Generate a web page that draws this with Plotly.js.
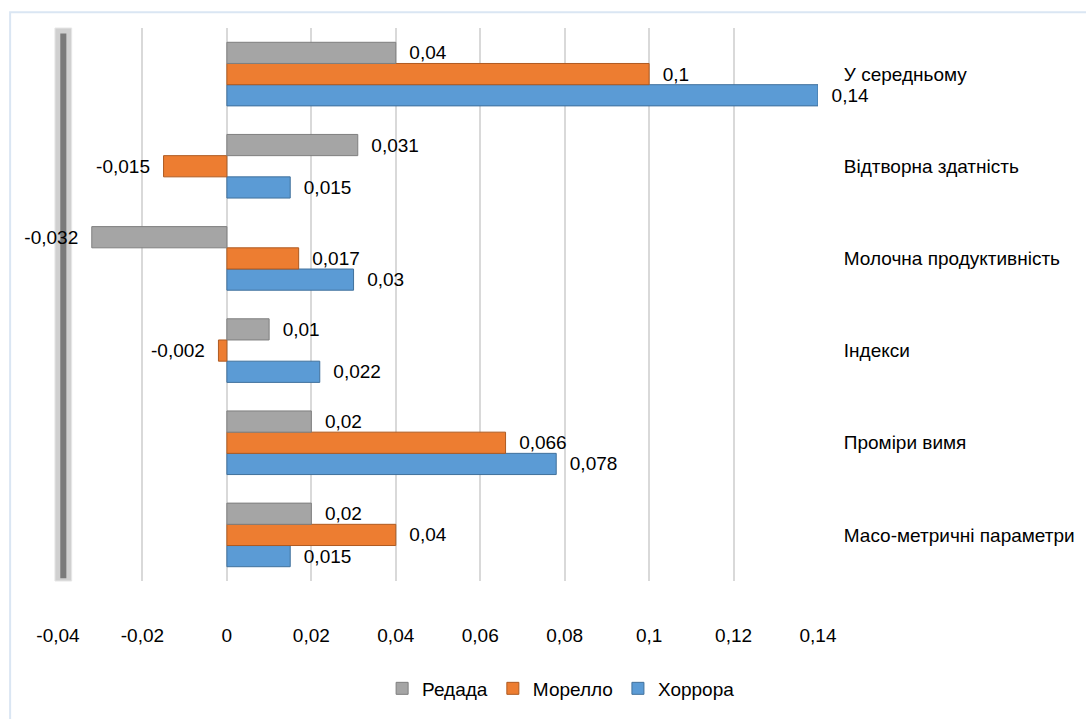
<!DOCTYPE html>
<html>
<head>
<meta charset="utf-8">
<script src="https://cdn.plot.ly/plotly-3.0.1.min.js"></script>
<style>html,body{margin:0;padding:0;background:#fff;}#chart{width:1086px;height:719px;}</style>
</head>
<body>
<div id="chart"></div>
<script>
// Categories listed bottom to top
const categories = [
  "Масо-метричні параметри",
  "Проміри вимя",
  "Індекси",
  "Молочна продуктивність",
  "Відтворна здатність",
  "У середньому"
];
const redada  = [0.02, 0.02, 0.01, -0.032, 0.031, 0.04];
const morello = [0.04, 0.066, -0.002, 0.017, -0.015, 0.1];
const horrora = [0.015, 0.078, 0.022, 0.03, 0.015, 0.14];
const seriesNames = ["Редада", "Морелло", "Хоррора"];
const xTicks = [-0.04, -0.02, 0, 0.02, 0.04, 0.06, 0.08, 0.1, 0.12, 0.14];

const FONT = '"Liberation Sans", Arial, sans-serif';
const FS = 19;
const fmt = v => String(v).replace('.', ',');
const NB = '\u00a0\u00a0';
const lab = v => v < 0 ? fmt(v) + NB : NB + fmt(v);

function mk(name, vals, color, line) {
  return {
    type: 'bar', orientation: 'h', name: name,
    y: categories, x: vals,
    text: vals.map(lab), textposition: 'outside', cliponaxis: false,
    textfont: {family: FONT, size: FS, color: '#000'},
    marker: {color: color, line: {color: line, width: 1}},
    hoverinfo: 'x+y'
  };
}
// trace order: first trace drawn at bottom of each group
const data = [
  mk(seriesNames[2], horrora, '#5B9BD5', '#41719C'),
  mk(seriesNames[1], morello, '#ED7D31', '#AE5A21'),
  mk(seriesNames[0], redada, '#A5A5A5', '#7F7F7F')
];

const layout = {
  width: 1086, height: 719,
  margin: {l: 58, r: 268, t: 28, b: 132},
  paper_bgcolor: '#fff', plot_bgcolor: '#fff',
  font: {family: FONT, size: FS, color: '#000'},
  separators: ', ',
  barmode: 'group', bargap: 0.31, bargroupgap: 0,
  showlegend: true,
  legend: {orientation: 'h', x: 0.662, xanchor: 'center', y: -0.16, yanchor: 'top',
           bgcolor: 'rgba(0,0,0,0)', traceorder: 'reversed', font: {family: FONT, size: FS}},
  xaxis: {
    range: [-0.04, 0.14], tickvals: xTicks, ticktext: xTicks.map(fmt),
    showgrid: true, gridcolor: '#D9D9D9', gridwidth: 2,
    zeroline: false, showline: false,
    ticks: 'outside', ticklen: 37, tickcolor: 'rgba(0,0,0,0)',
    tickfont: {family: FONT, size: FS, color: '#000'}, fixedrange: true
  },
  yaxis: {
    side: 'right', type: 'category', categoryorder: 'array', categoryarray: categories,
    showgrid: false, zeroline: false, showline: false,
    ticks: 'outside', ticklen: 21, tickcolor: 'rgba(0,0,0,0)',
    tickfont: {family: FONT, size: FS, color: '#000'}, fixedrange: true
  },
  shapes: [
    {type: 'rect', xref: 'paper', yref: 'paper', x0: -0.004, x1: 0.018, y0: 0, y1: 1.0,
     fillcolor: '#D0D0D0', line: {color: '#E6E6E6', width: 1}, layer: 'below'},
    {type: 'rect', xref: 'paper', yref: 'paper', x0: 0.003, x1: 0.011, y0: 0.005, y1: 0.99,
     fillcolor: '#7A7A7A', line: {width: 0}, layer: 'below'},
    {type: 'rect', xref: 'paper', yref: 'paper', x0: -0.063, x1: 1.4, y0: -0.3, y1: 1.0286,
     fillcolor: 'rgba(0,0,0,0)', line: {color: '#DAE6F3', width: 2}, layer: 'below'}
  ]
};
Plotly.newPlot('chart', data, layout, {displayModeBar: false, staticPlot: true});
</script>
</body>
</html>
